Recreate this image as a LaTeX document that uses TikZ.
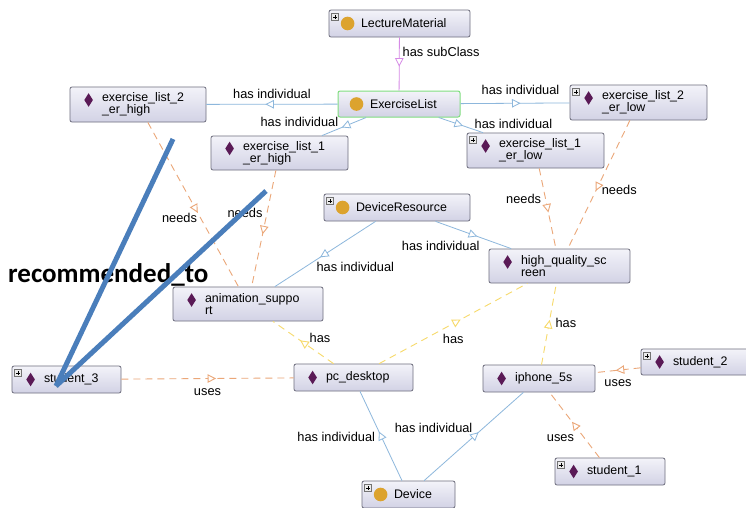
\documentclass[tikz,border=0pt]{standalone}
\usepackage{fontspec}
\setmainfont{Liberation Sans}
\newfontfamily\recfont{Carlito}
\usetikzlibrary{arrows.meta,decorations.markings}
\hyphenpenalty=10000

\definecolor{boxtop}{HTML}{F3F3F9}
\definecolor{boxbot}{HTML}{D2D2E5}
\definecolor{boxline}{HTML}{6E6E7E}
\definecolor{clsgreen}{HTML}{80DE80}
\definecolor{indivblue}{HTML}{8DB7DC}
\definecolor{subviolet}{HTML}{D68AE6}
\definecolor{needsorange}{HTML}{EBA778}
\definecolor{hasyellow}{HTML}{F7DA6A}
\definecolor{dmdcol}{HTML}{5A1A56}
\definecolor{circcol}{HTML}{DCA32E}
\definecolor{recblue}{HTML}{4A7EBB}

\tikzset{
	obj/.style={draw=boxline, line width=.8pt, rounded corners=2pt, top color=boxtop, bottom color=boxbot,
		text width=#1, inner xsep=32pt, inner ysep=1pt, align=left, font=\fontsize{12.4}{12}\selectfont},
	lbl/.style={font=\fontsize{12.8}{14}\selectfont, inner sep=1pt},
	midtip/.style={postaction={decorate}, decoration={markings,
		mark=at position .55 with {\arrow{Triangle[fill=white, length=8.5pt, width=8.5pt]}}}},
	indiv/.style={draw=indivblue, line width=.8pt, midtip},
	subcls/.style={draw=subviolet, line width=.8pt, midtip},
	needs/.style={draw=needsorange, line width=.9pt, dash pattern=on 7pt off 5pt, midtip},
	uses/.style={needs},
	has/.style={draw=hasyellow, line width=.9pt, dash pattern=on 7pt off 5pt, midtip},
	recline/.style={draw=recblue, line width=5pt, preaction={draw=black!25, transform canvas={xshift=1pt, yshift=-1.5pt}}},
	plusbox/.style={draw=black!55, fill=black!8, line width=.4pt},
}

\begin{document}
\begin{tikzpicture}[x=1pt, y=-1pt]
	\fill[white] (0,0) rectangle (746,507);
	\useasboundingbox (0,0) rectangle (746,507);

	\node[obj=77pt, minimum height=27pt] (lm) at (399.5,23.5) {LectureMaterial};
	\node[obj=58pt, minimum height=26pt, draw=clsgreen, line width=1pt] (el) at (399,104) {ExerciseList};
	\node[obj=72pt, minimum height=35pt] (el2h) at (138,104.5) {exercise\_list\_2\\\_er\_high};
	\node[obj=73pt, minimum height=34pt] (el1h) at (279.5,153) {exercise\_list\_1\\\_er\_high};
	\node[obj=73pt, minimum height=35pt] (el2l) at (638.5,102.5) {exercise\_list\_2\\\_er\_low};
	\node[obj=73pt, minimum height=35pt] (el1l) at (535.5,150.5) {exercise\_list\_1\\\_er\_low};
	\node[obj=82pt, minimum height=27pt] (dr) at (397,207.5) {DeviceResource};
	\node[obj=77pt, minimum height=34pt] (hqs) at (559.5,266) {high\_quality\_sc\\reen};
	\node[obj=86pt, minimum height=34pt] (anim) at (248,304) {animation\_suppo\\rt};
	\node[obj=45pt, minimum height=27pt] (st3) at (66.5,379.5) {student\_3};
	\node[obj=55pt, minimum height=27pt] (pc) at (353.5,377.5) {pc\_desktop};
	\node[obj=48pt, minimum height=27pt] (iph) at (539,378.5) {iphone\_5s};
	\node[obj=46pt, minimum height=26pt] (st2) at (696,362) {student\_2};
	\node[obj=46pt, minimum height=27pt] (st1) at (610,471.5) {student\_1};
	\node[obj=29pt, minimum height=27pt] (dev) at (408.5,494.5) {Device};

	\foreach \n/\dy in {el2h/4.5, el1h/4.5, el2l/4.5, el1l/4.5, hqs/4, anim/4, st3/0, pc/0, iph/0, st2/0, st1/0}
		\fill[dmdcol] ([xshift=19pt, yshift=\dy pt]\n.west) +(0,-6.8) -- +(4.3,0) -- +(0,6.8) -- +(-4.3,0) -- cycle;
	\foreach \n in {lm, el, dr, dev}
		\fill[circcol] ([xshift=19pt]\n.west) circle (6.8);
	\foreach \n in {lm, el2l, el1l, dr, st3, st2, st1, dev} {
		\draw[plusbox] ([xshift=3pt, yshift=-4pt]\n.north west) rectangle +(7,7);
		\draw[line width=.5pt] ([xshift=6.5pt, yshift=-5.5pt]\n.north west) -- +(0,4)
			([xshift=4.5pt, yshift=-7.5pt]\n.north west) -- +(4,0);
	}

	\draw[subcls] (lm) -- node[lbl, pos=.28, right=2pt] {has subClass} (el);
	\draw[indiv] (el) -- node[lbl, midway, above=4pt] {has individual} (el2h);
	\draw[indiv] (el) -- node[lbl, pos=.6, anchor=south east] {has individual} (el1h);
	\draw[indiv] (el) -- node[lbl, pos=.55, above=7pt] {has individual} (el2l);
	\draw[indiv] (el) -- node[lbl, pos=.6, right=8pt, yshift=3pt] {has individual} (el1l);

	\draw[needs] (el2h) -- node[lbl, pos=.58, left=2pt] {needs} (anim);
	\draw[needs] (el1h) -- node[lbl, pos=.37, left=3pt] {needs} (anim);
	\draw[needs] (el1l) -- node[lbl, pos=.38, left=3pt] {needs} (hqs);
	\draw[needs] (el2l) -- node[lbl, pos=.54, right=4pt] {needs} (hqs);

	\draw[indiv] (dr) -- node[lbl, pos=.6, anchor=north west] {has individual} (anim);
	\draw[indiv] (dr) -- node[lbl, pos=.6, anchor=north east, yshift=-2pt] {has individual} (hqs);

	\draw[has] (pc) -- node[lbl, pos=.6, right=11pt] {has} (anim);
	\draw[has] (pc) -- node[lbl, pos=.5, below=9pt] {has} (hqs);
	\draw[has] (iph) -- node[lbl, pos=.51, right=5pt] {has} (hqs);

	\draw[uses] (st3) -- node[lbl, midway, below=9pt] {uses} (pc);
	\draw[uses] (st2) -- node[lbl, midway, below=8pt] {uses} (iph);
	\draw[uses] (st1) -- node[lbl, pos=.3, left=9pt] {uses} (iph);

	\draw[indiv] (dev) -- node[lbl, pos=.49, left=5pt] {has individual} (pc);
	\draw[indiv] (dev) -- node[lbl, pos=.5, anchor=south east, yshift=2pt] {has individual} (iph);

	\node[font=\recfont\bfseries\fontsize{27}{29}\selectfont, inner sep=0, anchor=base west] (rec) at (8,282) {recommended\_to};
	\coordinate (rs) at (56,386);
	\coordinate (ra) at (173,139);
	\coordinate (rb) at (266,191);
	\draw[recline] (rs) -- (ra);
	\draw[recline] (rs) -- (rb);
\end{tikzpicture}
\end{document}
